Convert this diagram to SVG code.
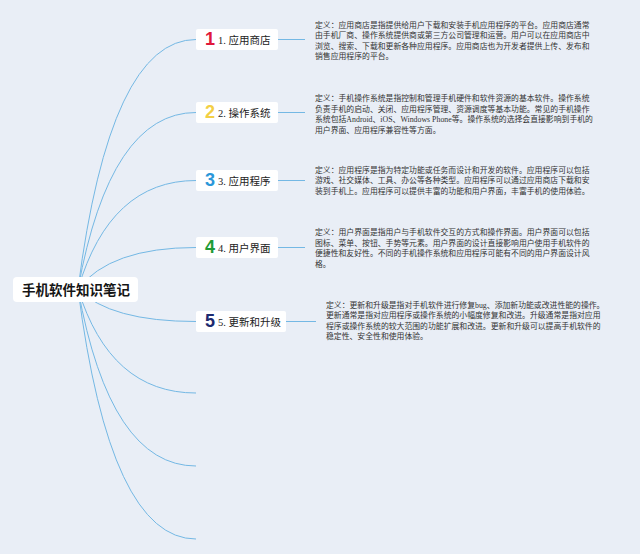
<svg xmlns="http://www.w3.org/2000/svg" width="640" height="554" viewBox="0 0 640 554">
<style>
.bg{fill:#e9eef6}
.conn path{fill:none;stroke:#74b8e4;stroke-width:1}
.box{fill:#ffffff}
.root{font-family:"Noto Sans CJK SC","Noto Sans",sans-serif;font-weight:bold;font-size:13.5px;fill:#151515;text-anchor:middle}
.lbl{font-family:"Liberation Serif","Noto Sans CJK SC",serif;font-size:10.5px;fill:#222}
.num{font-family:"Liberation Sans","Noto Sans",sans-serif;font-weight:bold;font-size:18px;text-anchor:middle}
.desc{font-family:"Liberation Serif","Noto Sans CJK SC",serif;font-size:7.85px;fill:#333}
</style>
<rect class="bg" x="0" y="0" width="640" height="554"/>
<g id="connectors" class="conn">
<path d="M78,289 Q110,39.5 196,39.5"/>
<path d="M78,289 Q110,112.5 196,112.5"/>
<path d="M78,289 Q110,180.5 196,180.5"/>
<path d="M78,289 Q110,247.5 196,247.5"/>
<path d="M78,289 Q110,321.5 196,321.5"/>
<path d="M78,289 Q110,393 196,393"/>
<path d="M78,289 Q110,466 196,466"/>
<path d="M78,289 Q110,539 196,539"/>
<path d="M278,39.5 H305"/>
<path d="M278,112.5 H305"/>
<path d="M278,180.5 H305"/>
<path d="M278,247.5 H305"/>
<path d="M286,321.5 H316"/>
</g>
<g id="root">
<rect class="box" x="13" y="277" width="125" height="25" rx="4"/>
<text class="root" x="76" y="295">手机软件知识笔记</text>
</g>
<g id="node1">
<rect class="box" x="196" y="29" width="82" height="21" rx="2"/>
<text class="num" x="210" y="45" fill="#e0183c">1</text>
<text class="lbl" x="218" y="44">1. 应用商店</text>
</g>
<g id="desc1" class="desc">
<text x="315" y="27.8">定义：应用商店是指提供给用户下载和安装手机应用程序的平台。应用商店通常</text>
<text x="315" y="38.3">由手机厂商、操作系统提供商或第三方公司管理和运营。用户可以在应用商店中</text>
<text x="315" y="48.8">浏览、搜索、下载和更新各种应用程序。应用商店也为开发者提供上传、发布和</text>
<text x="315" y="59.3">销售应用程序的平台。</text>
</g>
<g id="node2">
<rect class="box" x="196" y="102" width="82" height="21" rx="2"/>
<text class="num" x="210" y="118" fill="#f3cf44">2</text>
<text class="lbl" x="218" y="117">2. 操作系统</text>
</g>
<g id="desc2" class="desc">
<text x="315" y="101">定义：手机操作系统是指控制和管理手机硬件和软件资源的基本软件。操作系统</text>
<text x="315" y="111.5">负责手机的启动、关闭、应用程序管理、资源调度等基本功能。常见的手机操作</text>
<text x="315" y="122">系统包括Android、iOS、Windows Phone等。操作系统的选择会直接影响到手机的</text>
<text x="315" y="132.5">用户界面、应用程序兼容性等方面。</text>
</g>
<g id="node3">
<rect class="box" x="196" y="170" width="82" height="21" rx="2"/>
<text class="num" x="210" y="186" fill="#2b97d9">3</text>
<text class="lbl" x="218" y="185">3. 应用程序</text>
</g>
<g id="desc3" class="desc">
<text x="315" y="172.8">定义：应用程序是指为特定功能或任务而设计和开发的软件。应用程序可以包括</text>
<text x="315" y="183.3">游戏、社交媒体、工具、办公等各种类型。应用程序可以通过应用商店下载和安</text>
<text x="315" y="193.8">装到手机上。应用程序可以提供丰富的功能和用户界面，丰富手机的使用体验。</text>
</g>
<g id="node4">
<rect class="box" x="196" y="237" width="82" height="21" rx="2"/>
<text class="num" x="210" y="253" fill="#1f9b36">4</text>
<text class="lbl" x="218" y="252">4. 用户界面</text>
</g>
<g id="desc4" class="desc">
<text x="315" y="235">定义：用户界面是指用户与手机软件交互的方式和操作界面。用户界面可以包括</text>
<text x="315" y="245.5">图标、菜单、按钮、手势等元素。用户界面的设计直接影响用户使用手机软件的</text>
<text x="315" y="256">便捷性和友好性。不同的手机操作系统和应用程序可能有不同的用户界面设计风</text>
<text x="315" y="266.5">格。</text>
</g>
<g id="node5">
<rect class="box" x="196" y="311" width="90" height="21" rx="2"/>
<text class="num" x="210" y="327" fill="#1c2a70">5</text>
<text class="lbl" x="218" y="326">5. 更新和升级</text>
</g>
<g id="desc5" class="desc">
<text x="326" y="307.8">定义：更新和升级是指对手机软件进行修复bug、添加新功能或改进性能的操作。</text>
<text x="326" y="318.3">更新通常是指对应用程序或操作系统的小幅度修复和改进。升级通常是指对应用</text>
<text x="326" y="328.8">程序或操作系统的较大范围的功能扩展和改进。更新和升级可以提高手机软件的</text>
<text x="326" y="339.3">稳定性、安全性和使用体验。</text>
</g>
</svg>
